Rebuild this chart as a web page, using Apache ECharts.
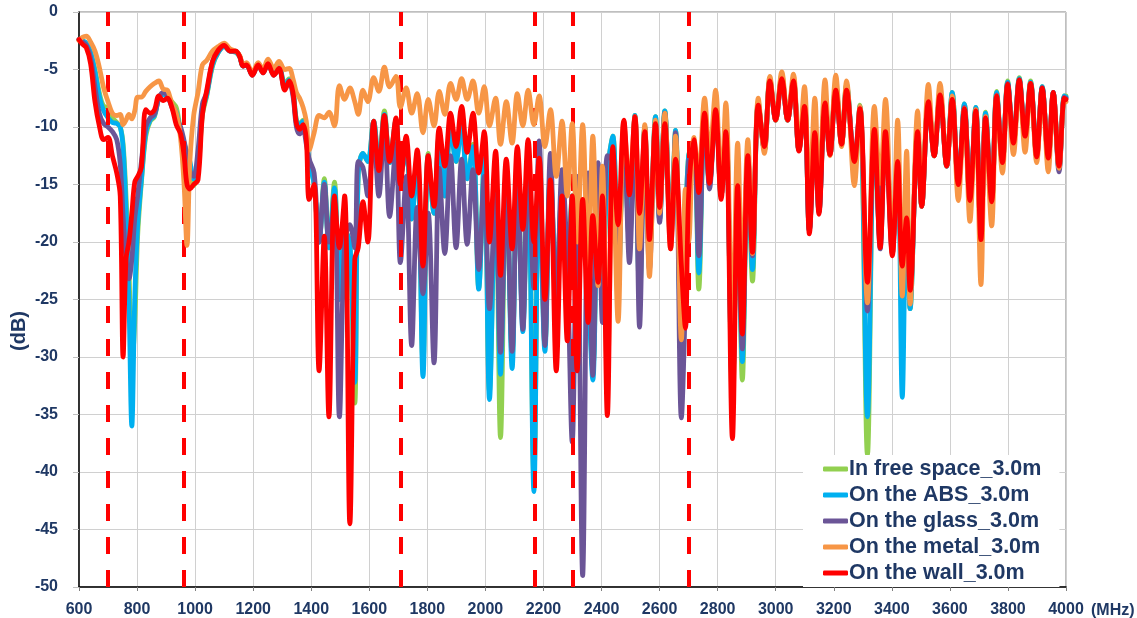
<!DOCTYPE html>
<html><head><meta charset="utf-8">
<script src="https://cdn.jsdelivr.net/npm/echarts@6/dist/echarts.min.js"></script>
<style>html,body{margin:0;padding:0;background:#fff}#c{width:1137px;height:618px}</style>
</head><body><div id="c"></div>
<script>
const freqMHz = [
600,612,625,640,655,670,685,700,715,730,742,752,762,772,782,792,802,815,830,845,860,875,890,905,920,935,950,962,972,982,995,1010,1025,1040,1060,1080,1100,1120,1140,
1154,1165,1177,1197,1217,1234,1251,1271,1289,1309,1324,1337,1349,1360,1372,1383,1393,
1410,1427,1445,1461,1480,1497,1515,1533,1550,1562,1578,1595,1615,1633,1652,1670,1692,1707,1727,
1746,1765,1785,1803,1823,1841,1860,1880,1899,1918,1937,1957,1977,1996,2014,2035,2052,2072,2092,2110,2129,2147,2167,2185,2205,2224,2244,2264,
2282,2299,2316,2335,2354,2370,2388,2403,2420,2439,2457,2477,2496,2515,2531,2549,2565,2586,2600,2618,2638,2655,2675,2689,2700,
2718,2735,2755,2772,2793,2812,2828,2851,2869,2885,2904,2920,2940,2961,2980,3000,3021,3041,3061,3080,3099,3116,3135,3149,3170,3187,3207,3227,3244,3271,3290,3316,3340,3360,3378,
3402,3420,3436,3451,3463,3489,3503,3526,3546,3566,3589,3608,3629,3650,3669,3689,3707,3723,3744,3761,3781,3799,3819,3839,3859,3878,3899,3918,3939,3956,3976,3994,4000
];

const freeSpace = [
-2.4,-2.5,-2.7,-3.5,-5.0,-7.0,-8.2,-8.3,-9.2,-9.6,-10.0,-11.5,-16.0,-22.0,-31.0,-27.0,-19.5,-14.8,-10.8,-9.5,-9.1,-7.5,-7.1,-7.3,-7.8,-8.3,-10.3,-11.4,-12.3,-13.4,-15.1,-13.8,-9.0,-7.3,-4.7,-3.5,-3.0,-3.4,-3.5,
-3.9,-4.7,-4.6,-5.4,-4.6,-5.2,-4.5,-5.4,-4.8,-6.2,-5.8,-6.7,-9.4,-9.7,-9.4,-11.0,-13.0,
-15.0,-20.0,-14.5,-20.5,-14.8,-25.0,-19.0,-20.0,-34.0,-14.0,-12.3,-13.0,-9.5,-13.4,-8.6,-13.1,-9.4,-14.3,-12.0,
-18.0,-12.3,-30.5,-12.3,-17.5,-10.6,-16.0,-10.0,-13.0,-9.4,-14.5,-11.5,-24.0,-12.6,-33.0,-14.3,-37.0,-14.0,-30.0,-13.0,-27.0,-12.5,-40.5,-13.0,-29.0,-14.0,-24.0,-15.5,
-24.0,-16.0,-26.0,-16.5,-24.0,-31.0,-15.0,-24.0,-14.0,-10.8,-24.0,-10.0,-20.0,-9.0,-25.0,-10.0,-21.0,-9.1,-18.0,-8.6,-19.5,-10.3,-29.0,-20.0,-12.5,
-11.5,-24.1,-8.2,-15.0,-8.0,-16.0,-9.7,-34.0,-15.0,-32.0,-12.3,-23.4,-7.8,-12.0,-5.8,-9.4,-5.5,-9.4,-5.8,-12.0,-7.8,-19.0,-10.0,-17.4,-7.4,-12.4,-6.3,-11.5,-6.3,-13.3,-8.1,-38.5,-9.4,-20.0,-9.5,
-20.5,-12.0,-27.0,-15.0,-25.8,-10.0,-16.9,-7.6,-12.5,-7.0,-13.4,-7.0,-15.0,-8.0,-16.4,-8.3,-19.8,-8.7,-16.5,-6.9,-13.1,-6.0,-11.4,-5.7,-10.8,-6.0,-12.5,-6.5,-12.8,-7.0,-13.6,-7.3,-7.3
];

const onABS = [
-2.4,-2.5,-2.7,-3.5,-5.2,-7.3,-8.6,-9.2,-9.6,-9.7,-10.0,-11.8,-17.2,-25.0,-36.0,-25.0,-18.6,-14.6,-10.5,-9.4,-9.0,-7.5,-7.2,-7.4,-8.1,-8.7,-10.5,-11.5,-12.3,-13.0,-14.5,-13.5,-8.7,-7.2,-4.6,-3.5,-3.0,-3.4,-3.5,
-3.9,-4.7,-4.6,-5.4,-4.6,-5.2,-4.5,-5.4,-4.8,-6.4,-5.9,-6.8,-9.5,-9.8,-9.5,-11.0,-13.0,
-15.0,-20.0,-14.8,-20.5,-15.3,-25.0,-19.0,-20.0,-32.2,-14.0,-12.3,-13.0,-9.5,-13.4,-8.9,-13.1,-9.4,-14.3,-12.0,
-18.0,-12.5,-31.7,-12.5,-17.5,-10.8,-16.0,-10.2,-13.0,-9.9,-14.5,-11.7,-24.1,-12.8,-33.7,-14.5,-31.5,-14.0,-31.0,-13.0,-27.8,-12.5,-41.7,-13.0,-29.5,-14.0,-24.0,-15.5,
-24.0,-16.0,-26.0,-16.5,-24.0,-32.0,-15.0,-24.0,-14.0,-10.8,-24.0,-10.0,-20.0,-9.0,-25.0,-10.0,-21.0,-9.1,-18.0,-8.6,-19.5,-10.3,-30.0,-20.0,-12.5,
-11.5,-22.7,-8.3,-15.0,-8.1,-16.0,-9.8,-33.0,-15.0,-30.4,-12.3,-22.4,-7.9,-12.0,-5.9,-9.4,-5.7,-9.4,-5.9,-12.0,-7.9,-19.0,-10.0,-17.4,-7.5,-12.4,-6.4,-11.5,-6.4,-13.3,-8.2,-35.2,-9.5,-20.0,-9.6,
-20.5,-12.0,-33.5,-15.0,-25.8,-10.0,-16.9,-7.6,-12.5,-7.0,-13.4,-7.0,-15.0,-8.0,-16.4,-8.3,-19.8,-8.8,-16.5,-7.0,-13.1,-6.1,-11.4,-5.8,-10.8,-6.1,-12.5,-6.5,-12.8,-7.0,-13.6,-7.3,-7.4
];

const onGlass = [
-2.4,-2.6,-2.9,-4.0,-6.5,-8.8,-9.7,-10.0,-10.4,-11.1,-13.2,-17.8,-21.5,-23.2,-21.5,-18.0,-16.0,-13.0,-10.0,-9.2,-8.9,-7.5,-7.0,-7.3,-8.3,-9.2,-10.0,-11.2,-12.5,-13.8,-14.3,-12.0,-8.0,-7.0,-4.3,-3.4,-2.9,-3.4,-3.4,
-3.9,-4.7,-4.6,-5.5,-4.6,-5.3,-4.5,-5.5,-4.9,-6.6,-6.2,-7.3,-10.0,-10.6,-10.2,-11.5,-12.8,
-14.0,-20.0,-15.0,-20.0,-16.5,-35.2,-20.0,-18.5,-20.5,-13.0,-13.5,-16.0,-10.8,-16.0,-9.8,-17.8,-11.5,-21.8,-14.3,
-29.0,-17.0,-24.5,-17.5,-30.5,-13.6,-21.0,-12.5,-20.5,-12.8,-20.2,-13.7,-22.4,-14.3,-25.8,-16.0,-29.6,-14.9,-29.5,-13.7,-27.6,-12.5,-24.0,-11.2,-29.0,-12.3,-26.4,-13.7,
-22.0,-37.4,-14.3,-49.0,-14.0,-31.6,-13.1,-27.0,-12.5,-13.0,-22.1,-10.2,-21.8,-9.1,-27.4,-10.2,-22.4,-9.7,-18.3,-8.8,-20.0,-10.5,-35.3,-25.0,-13.0,
-12.0,-21.2,-8.5,-15.4,-8.2,-16.0,-9.7,-33.0,-15.0,-29.3,-12.3,-21.2,-8.0,-12.0,-6.0,-9.4,-5.8,-9.4,-6.0,-12.0,-8.0,-19.0,-10.3,-17.4,-7.6,-12.4,-6.5,-11.5,-6.6,-13.0,-8.3,-26.0,-10.0,-20.6,-10.0,
-21.0,-12.8,-22.5,-17.5,-24.5,-10.2,-16.9,-7.7,-12.5,-7.1,-13.4,-7.4,-15.0,-8.3,-16.4,-8.5,-19.8,-9.1,-16.5,-7.2,-13.1,-6.2,-11.4,-5.9,-10.8,-6.2,-12.6,-6.6,-12.8,-7.0,-13.9,-7.4,-7.5
];

const onMetal = [
-2.5,-2.2,-2.1,-2.6,-3.4,-4.8,-6.6,-7.8,-8.8,-9.0,-8.9,-9.8,-9.4,-8.9,-9.3,-8.6,-7.4,-7.4,-6.9,-6.5,-6.2,-6.0,-6.7,-6.8,-8.0,-8.8,-11.0,-15.0,-20.3,-13.0,-9.0,-7.0,-4.6,-4.2,-3.4,-3.0,-2.7,-3.2,-3.4,
-3.8,-4.6,-4.4,-5.3,-4.4,-5.0,-4.1,-4.9,-4.3,-5.0,-4.9,-5.8,-7.0,-7.5,-8.3,-9.5,-12.0,
-10.5,-9.0,-9.2,-8.7,-9.9,-6.4,-7.6,-6.6,-7.8,-8.9,-6.8,-7.8,-5.7,-6.9,-4.8,-6.5,-5.6,-8.3,-6.6,
-8.8,-7.1,-10.5,-7.6,-9.9,-6.9,-8.9,-6.2,-7.6,-5.8,-7.6,-6.0,-8.8,-6.5,-9.9,-7.5,-11.5,-7.8,-11.4,-7.1,-9.9,-6.8,-9.8,-7.3,-11.7,-8.5,-14.3,-9.5,
-16.0,-9.7,-20.0,-9.8,-22.4,-10.8,-23.8,-13.4,-31.8,-13.4,-26.9,-9.5,-14.9,-9.1,-20.6,-9.8,-23.0,-9.4,-17.5,-8.8,-20.6,-10.8,-28.5,-15.4,-20.0,
-10.9,-14.0,-7.5,-12.5,-6.8,-16.0,-7.9,-28.0,-11.4,-23.5,-11.1,-21.0,-7.5,-12.3,-5.6,-9.4,-5.2,-9.4,-5.4,-12.0,-6.5,-16.6,-7.5,-16.0,-5.9,-12.5,-5.5,-11.7,-6.0,-15.1,-8.2,-25.3,-8.2,-14.9,-7.6,
-21.0,-9.4,-24.7,-12.1,-25.4,-8.6,-16.9,-6.3,-12.5,-6.2,-13.4,-7.3,-16.4,-8.4,-18.2,-8.5,-23.7,-9.1,-18.6,-7.3,-14.0,-6.5,-12.4,-6.0,-12.2,-6.2,-13.1,-6.8,-13.9,-7.1,-13.6,-7.6,-7.8
];

const onWall = [
-2.4,-2.8,-3.1,-4.5,-7.8,-9.9,-11.1,-10.9,-12.5,-14.0,-16.0,-30.0,-21.5,-20.0,-17.5,-14.8,-14.3,-13.5,-8.5,-8.8,-8.5,-7.3,-7.7,-7.5,-8.3,-9.8,-10.6,-12.5,-15.0,-15.4,-15.0,-14.6,-9.0,-6.8,-4.3,-3.3,-2.9,-3.4,-3.4,
-3.9,-4.7,-4.6,-5.5,-4.6,-5.3,-4.5,-5.5,-4.9,-6.8,-6.0,-7.0,-9.7,-10.2,-9.8,-11.1,-16.3,
-15.0,-31.2,-19.5,-35.2,-16.0,-20.5,-16.0,-44.5,-21.5,-20.5,-16.5,-20.0,-9.5,-13.8,-9.0,-13.0,-9.2,-15.0,-10.8,
-16.0,-12.0,-22.1,-12.5,-16.9,-10.1,-13.4,-8.8,-11.7,-8.2,-12.2,-8.8,-14.0,-10.4,-20.0,-12.1,-22.9,-12.8,-20.6,-11.7,-18.9,-11.1,-20.0,-12.7,-25.0,-14.6,-31.2,-16.0,
-28.6,-16.0,-31.2,-16.3,-27.0,-17.7,-23.5,-16.0,-35.1,-11.7,-18.5,-9.4,-15.9,-9.1,-17.5,-10.4,-19.8,-9.7,-17.0,-9.7,-20.6,-12.8,-22.0,-27.5,-16.0,
-11.1,-15.7,-8.8,-14.9,-8.5,-16.3,-10.4,-37.1,-15.1,-28.0,-12.5,-20.9,-8.1,-11.7,-6.0,-9.4,-5.8,-9.4,-6.0,-12.1,-8.2,-19.3,-10.5,-17.6,-7.9,-12.4,-6.8,-11.5,-6.8,-13.0,-8.4,-23.5,-10.2,-20.5,-10.4,
-21.2,-13.0,-22.1,-17.9,-24.2,-10.4,-16.9,-7.8,-12.5,-7.2,-13.4,-7.6,-15.0,-8.4,-16.4,-8.6,-19.8,-9.2,-16.5,-7.3,-13.1,-6.3,-11.4,-5.9,-10.8,-6.2,-12.6,-6.6,-12.7,-7.0,-13.4,-7.5,-7.6
];

const seriesNames = ['In free space_3.0m', 'On the ABS_3.0m', 'On the glass_3.0m', 'On the metal_3.0m', 'On the wall_3.0m'];
const seriesValues = [freeSpace, onABS, onGlass, onMetal, onWall];
const seriesColors = ['#92D050', '#00B0F0', '#6B5597', '#F79646', '#FF0000'];
const bandEdgesMHz = [700, 960, 1710, 2170, 2300, 2700];

const navy = '#1F3864';
const fontFam = 'Arial, "Liberation Sans", sans-serif';

const chart = echarts.init(document.getElementById('c'), null, {renderer: 'canvas'});

const warn = [];
seriesValues.forEach((v, k) => { if (v.length !== freqMHz.length) warn.push(seriesNames[k] + ':' + v.length + '/' + freqMHz.length); });

const series = seriesValues.map((vals, k) => {
  const s = {
    type: 'line',
    name: seriesNames[k],
    data: freqMHz.map((f, i) => [f, vals[i]]),
    showSymbol: false,
    symbol: 'none',
    smooth: 0.35,
    lineStyle: {width: 4.8, color: seriesColors[k], cap: 'round', join: 'round'},
    itemStyle: {color: seriesColors[k]},
    emphasis: {disabled: true},
    z: 2 + k
  };
  if (k === 4) {
    s.markLine = {
      silent: true,
      symbol: ['none', 'none'],
      label: {show: false},
      animation: false,
      lineStyle: {color: '#FF0000', width: 4, type: [17, 16]},
      emphasis: {disabled: true},
      data: bandEdgesMHz.map(x => ({xAxis: x}))
    };
  }
  return s;
});

const graphics = [
  {type: 'text', x: 19, y: 331, rotation: Math.PI / 2,
   style: {text: '(dB)', fill: navy, font: 'bold 20px ' + fontFam, align: 'center', verticalAlign: 'middle', textAlign: 'center', textVerticalAlign: 'middle'}},
  {type: 'text', left: 1091, top: 603,
   style: {text: '(MHz)', fill: navy, font: 'bold 16px ' + fontFam}}
];
if (warn.length) graphics.push({type: 'text', left: 300, top: 300, style: {text: warn.join(' '), fill: '#000', font: '14px sans-serif'}});

chart.setOption({
  animation: false,
  backgroundColor: '#ffffff',
  grid: {left: 79, right: 71, top: 12, bottom: 30, show: true, borderColor: '#7f7f7f', borderWidth: 1, backgroundColor: 'transparent'},
  xAxis: {
    type: 'value', min: 600, max: 4000, interval: 200,
    axisLine: {show: true, onZero: false, lineStyle: {color: '#000', width: 1.5}},
    axisTick: {show: true, length: 4, lineStyle: {color: '#808080'}},
    splitLine: {show: true, lineStyle: {color: '#d0d0d0', width: 1}},
    axisLabel: {color: navy, fontSize: 16, fontWeight: 'bold', fontFamily: fontFam, margin: 15, formatter: v => String(v)}
  },
  yAxis: {
    type: 'value', min: -50, max: 0, interval: 5,
    axisLine: {show: true, onZero: false, lineStyle: {color: '#000', width: 1.5}},
    axisTick: {show: true, length: 6, lineStyle: {color: '#c0c0c0'}},
    splitLine: {show: true, lineStyle: {color: '#d0d0d0', width: 1}},
    axisLabel: {color: navy, fontSize: 16, fontWeight: 'bold', fontFamily: fontFam, margin: 21, formatter: v => String(v)}
  },
  legend: {
    orient: 'vertical', left: 803, top: 455,
    padding: [3, 18, 3, 20],
    backgroundColor: '#ffffff',
    itemWidth: 25, itemHeight: 5, itemGap: 4,
    icon: 'roundRect',
    selectedMode: false,
    textStyle: {color: navy, fontSize: 21.5, fontWeight: 'bold', fontFamily: fontFam, padding: [0, 0, 0, -4]}
  },
  graphic: graphics,
  series: series
});
</script>
</body></html>
